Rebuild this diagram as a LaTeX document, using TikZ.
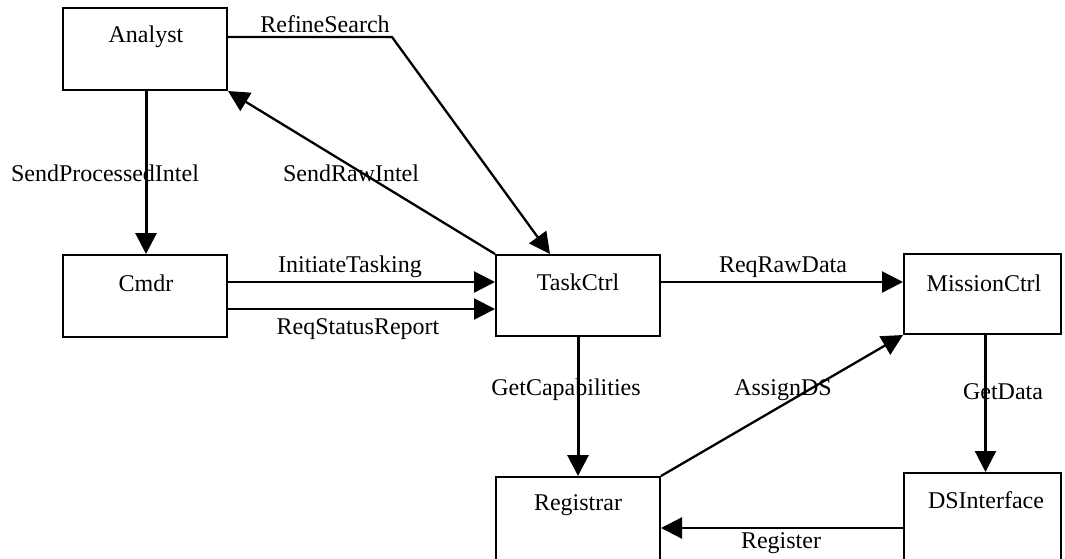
\documentclass[tikz,border=0pt]{standalone}
\usepackage{fontspec}
\setmainfont{Liberation Serif}
\usetikzlibrary{arrows.meta}
\begin{document}
\begin{tikzpicture}[x=1pt,y=-1pt,
  box/.style={draw,line width=2pt,inner sep=0pt},
  ttl/.style={font=\fontsize{24}{28}\selectfont,inner sep=0pt,anchor=center},
  lbl/.style={font=\fontsize{24}{28}\selectfont,inner sep=0pt,anchor=center},
  conn/.style={line width=2.3pt,-{Triangle[length=21pt,width=21pt]}},
  thick conn/.style={line width=3pt,-{Triangle[length=21pt,width=21pt]}}]
\useasboundingbox (0,0) rectangle (1065,558);
% boxes
\node[box,minimum width=164pt,minimum height=82pt] (analyst) at (145,49) {};
\node[box,minimum width=164pt,minimum height=82pt] (cmdr) at (145,296) {};
\node[box,minimum width=164pt,minimum height=81pt] (taskctrl) at (578,295.5) {};
\node[box,minimum width=157pt,minimum height=80pt] (missionctrl) at (982.5,294) {};
\node[box,minimum width=164pt,minimum height=84pt] (registrar) at (578,519) {};
\node[box,minimum width=157pt,minimum height=88pt] (dsinterface) at (982.5,517) {};
% titles
\node[ttl] (analystT) at (146,37) {Analyst};
\node[ttl] (cmdrT) at (146,283) {Cmdr};
\node[ttl] (taskctrlT) at (578,282) {TaskCtrl};
\node[ttl] (missionctrlT) at (984,283) {MissionCtrl};
\node[ttl] (registrarT) at (578,505) {Registrar};
\node[ttl] (dsinterfaceT) at (986,500) {DSInterface};
% labels
\node[lbl] (l1) at (325,24) {RefineSearch};
\node[lbl] (l2) at (351,173) {SendRawIntel};
\node[lbl] (l3) at (105,173) {SendProcessedIntel};
\node[lbl] (l4) at (350,267) {InitiateTasking};
\node[lbl] (l5) at (358,329) {ReqStatusReport};
\node[lbl] (l6) at (783,267) {ReqRawData};
\node[lbl] (l7) at (566,390) {GetCapabilities};
\node[lbl] (l8) at (783,390) {AssignDS};
\node[lbl] (l9) at (1003,392) {GetData};
\node[lbl] (l10) at (781,543) {Register};
% helper coordinates
\coordinate (rsbend) at (392,37);
\coordinate (rsy) at (0,309);
\coordinate (regy) at (0,528);
% connectors
\draw[conn] (analyst.east |- analystT) -- (rsbend) -- ([xshift=-28pt]taskctrl.north);
\draw[conn] (taskctrl.north west) -- (analyst.south east);
\draw[thick conn] (analyst.south -| analystT) -- (cmdr.north -| analystT);
\draw[conn] (cmdr.east |- taskctrlT) -- (taskctrl.west |- taskctrlT);
\draw[conn] (cmdr.east |- rsy) -- (taskctrl.west |- rsy);
\draw[conn] (taskctrl.east |- taskctrlT) -- (missionctrl.west |- taskctrlT);
\draw[thick conn] (taskctrl.south) -- (registrar.north);
\draw[conn] (registrar.north east) -- (missionctrl.south west);
\draw[conn] ([xshift=3pt]missionctrl.south) -- ([xshift=3pt]missionctrl.south |- dsinterface.north);
\draw[conn] (dsinterface.west |- regy) -- (registrar.east |- regy);
\end{tikzpicture}
\end{document}
